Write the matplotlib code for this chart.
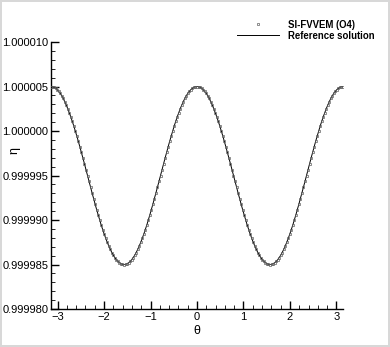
import numpy as np
import matplotlib
matplotlib.use("Agg")
import matplotlib.pyplot as plt
from matplotlib.ticker import FixedLocator, MultipleLocator
from matplotlib.lines import Line2D

plt.rcParams['font.family'] = ['Liberation Sans', 'DejaVu Sans']

# eta - 1, in units of 1e-6, sampled at theta from -pi to pi (193 samples)
eta_offset_1e6 = [
    5.00, 4.98, 4.91, 4.81, 4.66, 4.47, 4.24, 3.97, 3.66, 3.31, 2.93, 2.52, 2.07, 1.59, 1.09, 0.56,
    0.00, -0.58, -1.17, -1.79, -2.41, -3.05, -3.69, -4.35, -5.00, -5.65, -6.31, -6.95, -7.59, -8.21,
    -8.83, -9.42, -10.00, -10.56, -11.09, -11.59, -12.07, -12.52, -12.93, -13.31, -13.66, -13.97,
    -14.24, -14.47, -14.66, -14.81, -14.91, -14.98, -15.00,
    -14.98, -14.91, -14.81, -14.66, -14.47, -14.24, -13.97, -13.66, -13.31, -12.93, -12.52, -12.07,
    -11.59, -11.09, -10.56, -10.00, -9.42, -8.83, -8.21, -7.59, -6.95, -6.31, -5.65, -5.00, -4.35,
    -3.69, -3.05, -2.41, -1.79, -1.17, -0.58, 0.00, 0.56, 1.09, 1.59, 2.07, 2.52, 2.93, 3.31, 3.66,
    3.97, 4.24, 4.47, 4.66, 4.81, 4.91, 4.98, 5.00,
    4.98, 4.91, 4.81, 4.66, 4.47, 4.24, 3.97, 3.66, 3.31, 2.93, 2.52, 2.07, 1.59, 1.09, 0.56,
    0.00, -0.58, -1.17, -1.79, -2.41, -3.05, -3.69, -4.35, -5.00, -5.65, -6.31, -6.95, -7.59, -8.21,
    -8.83, -9.42, -10.00, -10.56, -11.09, -11.59, -12.07, -12.52, -12.93, -13.31, -13.66, -13.97,
    -14.24, -14.47, -14.66, -14.81, -14.91, -14.98, -15.00,
    -14.98, -14.91, -14.81, -14.66, -14.47, -14.24, -13.97, -13.66, -13.31, -12.93, -12.52, -12.07,
    -11.59, -11.09, -10.56, -10.00, -9.42, -8.83, -8.21, -7.59, -6.95, -6.31, -5.65, -5.00, -4.35,
    -3.69, -3.05, -2.41, -1.79, -1.17, -0.58, 0.00, 0.56, 1.09, 1.59, 2.07, 2.52, 2.93, 3.31, 3.66,
    3.97, 4.24, 4.47, 4.66, 4.81, 4.91, 4.98, 5.00,
]
theta = np.linspace(-np.pi, np.pi, len(eta_offset_1e6))
eta = 1.0 + np.array(eta_offset_1e6) * 1e-6

x_ticks = [-3, -2, -1, 0, 1, 2, 3]
y_ticks = [0.999980, 0.999985, 0.999990, 0.999995, 1.000000, 1.000005, 1.000010]
y_ticklabels = ['0.999980', '0.999985', '0.999990', '0.999995', '1.000000', '1.000005', '1.000010']
labels = ['SI-FVVEM (O4)', 'Reference solution']

fig = plt.figure(figsize=(3.9, 3.47), dpi=100)
fig.patch.set_edgecolor('#d8d8d8')
fig.patch.set_linewidth(1.5)
ax = fig.add_axes([51/390, 38/347, 292/390, 267/347])

ax.plot(theta, eta, color='black', lw=0.7, zorder=2)
ax.plot(theta, eta, ls='none', marker='s', ms=1.7, mfc='none', mec='#606060', mew=0.5, zorder=3)

ax.set_xlim(-np.pi, np.pi)
ax.set_ylim(0.999980, 1.000010)
ax.xaxis.set_major_locator(FixedLocator(x_ticks))
ax.xaxis.set_minor_locator(MultipleLocator(0.2))
ax.yaxis.set_major_locator(FixedLocator(y_ticks))
ax.set_yticklabels(y_ticklabels)
ax.yaxis.set_minor_locator(MultipleLocator(1e-6))

for s in ['top', 'right']:
    ax.spines[s].set_visible(False)
for s in ['left', 'bottom']:
    ax.spines[s].set_linewidth(1.0)
ax.tick_params(which='major', direction='in', length=6, width=1.0, labelsize=8, pad=2)
ax.tick_params(which='minor', direction='in', length=3, width=0.6)

ax.set_ylabel('η', fontsize=9, labelpad=0)
ax.yaxis.set_label_coords(-0.106, 0.592)
ax.set_xlabel('θ', fontsize=9)
ax.xaxis.set_label_coords(0.5, -0.06)

handles = [
    Line2D([], [], ls='none', marker='s', ms=1.7, mfc='none', mec='#606060', mew=0.5),
    Line2D([], [], color='black', lw=0.7),
]
fig.legend(handles, labels, loc='upper left', bbox_to_anchor=(237/390, 1 - 19.5/347),
           frameon=False, prop={'weight': 'bold', 'size': 6.9}, handlelength=4.4,
           handletextpad=0.94, labelspacing=0.12, borderpad=0, borderaxespad=0, numpoints=1)

fig.savefig('out.png', dpi=100)
